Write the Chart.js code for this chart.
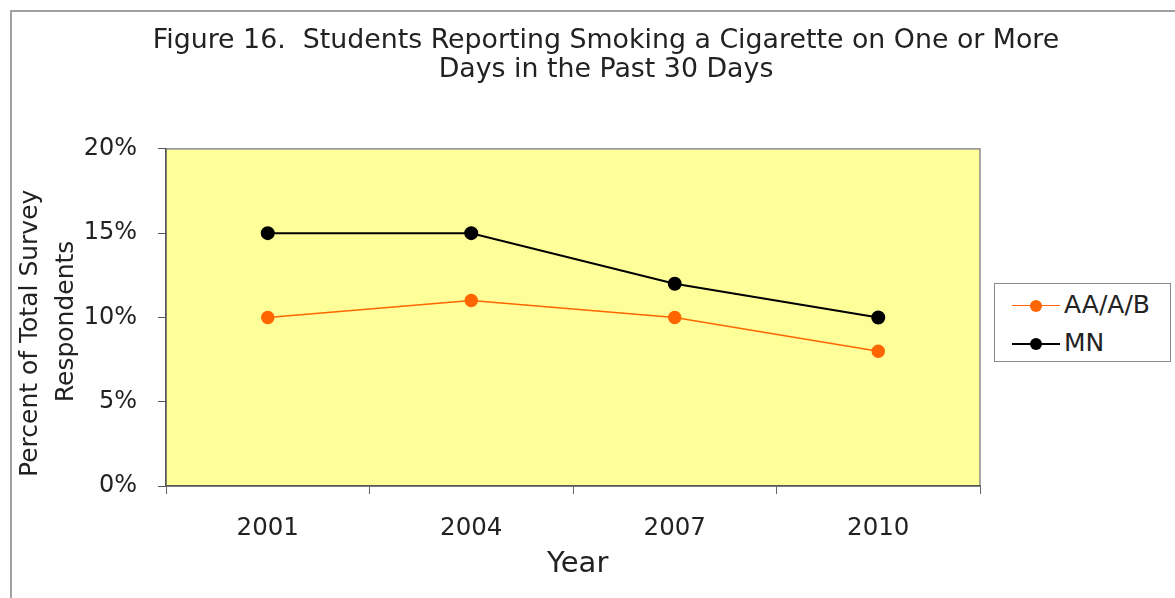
<!DOCTYPE html>
<html>
<head>
<meta charset="utf-8">
<script src="https://cdn.jsdelivr.net/npm/chart.js@4.4.1/dist/chart.umd.min.js"></script>
<style>
  html, body { margin: 0; padding: 0; background: #fff; width: 1175px; height: 598px; overflow: hidden; }
  #frame { position: absolute; left: 10px; top: 10px; width: 1220px; height: 620px;
           border-left: 2px solid #a0a0a0; border-top: 2px solid #a0a0a0; }
  #wrap { position: absolute; left: 12px; top: 12px; }
  #legend { position: absolute; left: 994px; top: 283px; width: 177px; height: 79px;
            border: 1.5px solid #8a8a8a; background: #fff; box-sizing: border-box;
            font-family: "DejaVu Sans", sans-serif; font-size: 25px; color: #222; }
  .item { position: absolute; left: 17px; height: 30px; }
  .item .line { position: absolute; left: 0; width: 48px; top: 14px; }
  .item .dot { position: absolute; left: 18px; top: 9px; width: 12px; height: 12px; border-radius: 50%; }
  .item .txt { position: absolute; left: 52px; top: -1px; white-space: nowrap; }
</style>
</head>
<body>
<div id="frame"></div>
<div id="wrap"><canvas id="myChart" width="1188" height="586"></canvas></div>
<div id="legend"></div>
<script>
// values
let years = ['2001', '2004', '2007', '2010'];
let aaValues = [10, 11, 10, 8];
let mnValues = [15, 15, 12, 10];
let seriesNames = ['AA/A/B', 'MN'];
let seriesColors = ['#FF6600', '#000000'];
let yTicks = [0, 5, 10, 15, 20];

let titleLines = ['Figure 16.  Students Reporting Smoking a Cigarette on One or More', 'Days in the Past 30 Days'];
// trailing spaces nudge the rotated lines down a little, like the original
let yTitleLines = ['Percent of Total Survey    ', 'Respondents '];
let xTitle = ' Year';

const fontFamily = '"DejaVu Sans", sans-serif';

// yellow plot area with grey frame
const plotArea = {
    id: 'plotArea',
    beforeDraw(chart) {
        const { ctx, chartArea: a } = chart;
        ctx.save();
        ctx.fillStyle = '#FFFF99';
        ctx.fillRect(a.left, a.top, a.right - a.left, a.bottom - a.top);
        ctx.strokeStyle = '#8c8c8c';
        ctx.lineWidth = 1.5;
        ctx.strokeRect(a.left, a.top, a.right - a.left, a.bottom - a.top);
        ctx.restore();
    }
};

let data = {
    labels: years,
    datasets: [{
        label: seriesNames[0],
        data: aaValues,
        borderColor: seriesColors[0],
        backgroundColor: seriesColors[0],
        borderWidth: 1.5,
        pointRadius: 6,
        pointHoverRadius: 6,
        tension: 0
    }, {
        label: seriesNames[1],
        data: mnValues,
        borderColor: seriesColors[1],
        backgroundColor: seriesColors[1],
        borderWidth: 2,
        pointRadius: 6,
        pointHoverRadius: 6,
        tension: 0
    }]
};

let config = {
    type: 'line',
    data: data,
    plugins: [plotArea],
    options: {
        responsive: false,
        animation: false,
        layout: { padding: 0 },
        plugins: {
            legend: { display: false },
            tooltip: { enabled: false },
            title: {
                display: true,
                text: titleLines,
                color: '#222',
                font: { family: fontFamily, size: 26.8, weight: 'normal', lineHeight: 1.08 },
                padding: { top: 15, bottom: 64 }
            }
        },
        scales: {
            x: {
                offset: true,
                grid: { offset: true, drawOnChartArea: false, tickLength: 8, color: '#666', lineWidth: 1 },
                border: { color: '#555', width: 1.5 },
                ticks: { color: '#222', padding: 20, font: { family: fontFamily, size: 24.5 } },
                title: {
                    display: true,
                    text: xTitle,
                    color: '#222',
                    font: { family: fontFamily, size: 29, lineHeight: 1.2 },
                    padding: { top: 0, bottom: 16.6 }
                },
                afterFit: (s) => { s.height = 112; }
            },
            y: {
                min: 0,
                max: 20,
                afterBuildTicks: (s) => { s.ticks = yTicks.map(v => ({ value: v })); },
                grid: { drawOnChartArea: false, tickLength: 8, color: '#555', lineWidth: 1 },
                border: { color: '#555', width: 1.5 },
                ticks: {
                    color: '#222',
                    padding: 21,
                    font: { family: fontFamily, size: 24 },
                    callback: (v) => v + '%'
                },
                title: {
                    display: true,
                    text: yTitleLines,
                    color: '#222',
                    font: { family: fontFamily, size: 25, lineHeight: 1.44 },
                    padding: { top: 0, bottom: 0 }
                },
                afterFit: (s) => { s.width = 154; }
            },
            // empty right axis only keeps room for the legend
            yRight: {
                position: 'right',
                display: true,
                grid: { display: false },
                border: { display: false },
                ticks: { display: false },
                afterFit: (s) => { s.width = 220; }
            }
        }
    }
};

let myChart = new Chart(document.getElementById('myChart'), config);

// legend box on the right
let legendBox = document.getElementById('legend');
seriesNames.forEach((name, i) => {
    let item = document.createElement('div');
    item.className = 'item';
    item.style.top = (7 + i * 38) + 'px';
    item.innerHTML =
        '<div class="line" style="border-top:' + (i == 0 ? 1.5 : 2) + 'px solid ' + seriesColors[i] + '"></div>' +
        '<div class="dot" style="background:' + seriesColors[i] + '"></div>' +
        '<div class="txt">' + name + '</div>';
    legendBox.appendChild(item);
});
</script>
</body>
</html>
